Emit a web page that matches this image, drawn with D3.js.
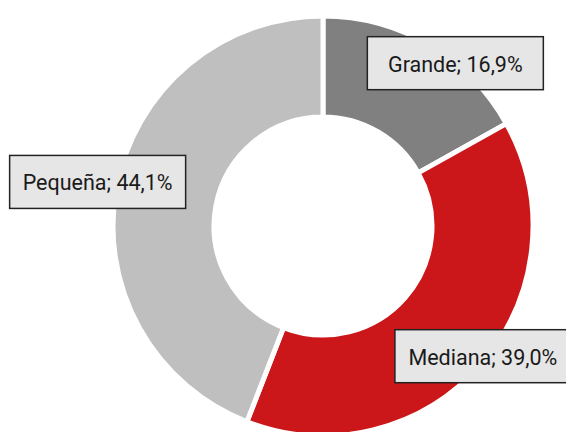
<!DOCTYPE html>
<html>
<head>
<meta charset="utf-8">
<script src="https://d3js.org/d3.v7.min.js"></script>
<style>
  body { margin: 0; background: #fff; }
  .lbl { font-family: Roboto, "Liberation Sans", sans-serif; font-size: 21.5px; fill: #1a1a1a; text-anchor: middle; }
</style>
</head>
<body>
<svg id="chart" width="566" height="432"></svg>
<script>
const categories = ["Grande", "Mediana", "Pequeña"];
const shares = [16.9, 39.0, 44.1];
const colors = ["#808080", "#cc171a", "#bfbfbf"];
// small hand nudges for each label box
const nudges = [[25, 20], [0, -9], [-17, -5]];

const width = 566, height = 432;
const cx = 323, cy = 226;
const outerR = 210, innerR = 109;

const svg = d3.select("#chart");
const g = svg.append("g").attr("transform", `translate(${cx},${cy})`);

const data = categories.map((c, i) => ({ name: c, value: shares[i], color: colors[i], nudge: nudges[i] }));

const pie = d3.pie().sort(null).value(d => d.value);
const arc = d3.arc().innerRadius(innerR).outerRadius(outerR);
const labelArc = d3.arc().innerRadius(212).outerRadius(212);

const arcs = pie(data);

g.selectAll("path")
  .data(arcs)
  .enter()
  .append("path")
  .attr("d", arc)
  .attr("fill", d => d.data.color)
  .attr("stroke", "#fff")
  .attr("stroke-width", 5);

const fmt = v => v.toFixed(1).replace(".", ",") + "%";

const boxW = 176, boxH = 53;
const labels = g.selectAll(".label")
  .data(arcs)
  .enter()
  .append("g")
  .attr("class", "label")
  .attr("transform", d => {
    const [x, y] = labelArc.centroid(d);
    return `translate(${x + d.data.nudge[0]},${y + d.data.nudge[1]})`;
  });

labels.append("rect")
  .attr("x", -boxW / 2)
  .attr("y", -boxH / 2)
  .attr("width", boxW)
  .attr("height", boxH)
  .attr("fill", "#e6e6e6")
  .attr("stroke", "#222")
  .attr("stroke-width", 1.5);

labels.append("text")
  .attr("class", "lbl")
  .attr("y", 1)
  .attr("dominant-baseline", "central")
  .text(d => `${d.data.name}; ${fmt(d.data.value)}`);
</script>
</body>
</html>
